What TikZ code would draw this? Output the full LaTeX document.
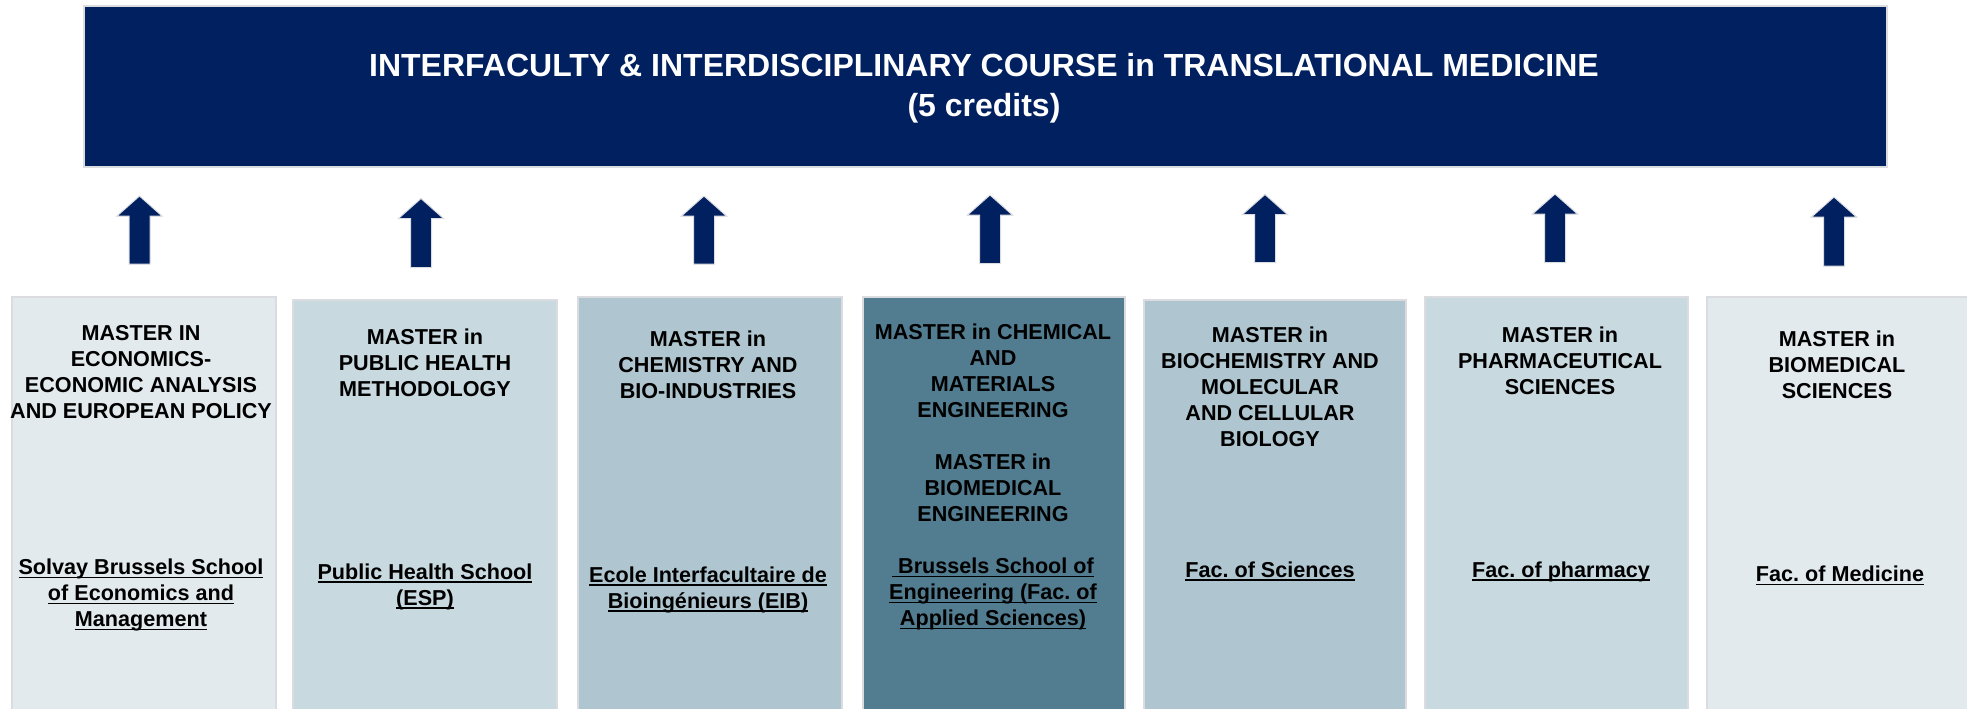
\documentclass[tikz,border=0pt]{standalone}
\usepackage{fontspec}
\setmainfont{Liberation Sans}
\usetikzlibrary{calc}
\frenchspacing
\definecolor{navy}{RGB}{0,32,96}
\definecolor{cA}{RGB}{227,234,238}
\definecolor{cB}{RGB}{200,217,224}
\definecolor{cC}{RGB}{175,198,208}
\definecolor{cD}{RGB}{82,124,144}
\definecolor{edge}{RGB}{218,220,224}
\newcommand\myul[1]{\leavevmode\setbox0\hbox{#1}\rlap{\rule[-0.16em]{\wd0}{0.07em}}\box0}
\begin{document}
\begin{tikzpicture}[x=0.5pt,y=-0.5pt,
  colbox/.style={draw=edge, line width=0.8pt, anchor=north west, inner sep=0pt,
    minimum width=132pt, minimum height=214pt},
  hdrbox/.style={draw=edge, line width=0.8pt, fill=navy, anchor=north west, inner sep=0pt,
    minimum width=901.5pt, minimum height=80.5pt},
  hdrtext/.style={inner sep=0pt, align=center, text=white,
    font=\fontsize{16pt}{20pt}\selectfont\bfseries\frenchspacing},
  titletext/.style={inner sep=0pt, align=center, text=black,
    font=\fontsize{10.8pt}{13pt}\selectfont\bfseries\frenchspacing},
  schooltext/.style={titletext},
  blockarrow/.style={fill=navy, draw=edge, line width=0.5pt, line join=miter}]
\useasboundingbox (0,0) rectangle (1967,708);

% header
\node[hdrbox] (hdr) at (83,5) {};
\node[hdrtext] (hdrt) at (984,88.1) {INTERFACULTY \& INTERDISCIPLINARY COURSE in TRANSLATIONAL MEDICINE\\(5 credits)};

% columns
\node[colbox, fill=cA] (c1) at (11,296) {};
\node[colbox, fill=cB] (c2) at (292,299) {};
\node[colbox, fill=cC] (c3) at (577,296) {};
\node[colbox, fill=cD, minimum width=131pt] (c4) at (862,296) {};
\node[colbox, fill=cC, minimum width=131pt] (c5) at (1143,299) {};
\node[colbox, fill=cB, minimum width=131.5pt] (c6) at (1424,296) {};
\node[colbox, fill=cA, minimum width=135pt] (c7) at (1706,296) {};

% titles
\node[titletext] (t1) at (141,372) {MASTER IN\\ECONOMICS-\\ECONOMIC ANALYSIS\\AND EUROPEAN POLICY};
\node[titletext] (t2) at (425,363) {MASTER in\\PUBLIC HEALTH\\METHODOLOGY};
\node[titletext] (t3) at (708,365) {MASTER in\\CHEMISTRY AND\\BIO-INDUSTRIES};
\node[titletext] (t4) at (993,422.4) {MASTER in CHEMICAL\\AND\\MATERIALS\\ENGINEERING\\[13pt]MASTER in\\BIOMEDICAL\\ENGINEERING};
\node[titletext] (t5) at (1270,387) {MASTER in\\BIOCHEMISTRY AND\\MOLECULAR\\AND CELLULAR\\BIOLOGY};
\node[titletext] (t6) at (1560,361) {MASTER in\\PHARMACEUTICAL\\SCIENCES};
\node[titletext] (t7) at (1837,364.7) {MASTER in\\BIOMEDICAL\\SCIENCES};

% schools
\node[schooltext] (s1) at (141,595.3) {\myul{Solvay Brussels School}\\\myul{of Economics and}\\\myul{Management}};
\node[schooltext] (s2) at (425,586.6) {\myul{Public Health School}\\\myul{(ESP)}};
\node[schooltext] (s3) at (708,589.8) {\myul{Ecole Interfacultaire de}\\\myul{Bioingénieurs (EIB)}};
\node[schooltext] (s4) at (993,594.3) {\myul{\ Brussels School of}\\\myul{Engineering (Fac. of}\\\myul{Applied Sciences)}};
\node[schooltext] (s5) at (1270,571.3) {\myul{Fac. of Sciences}};
\node[schooltext] (s6) at (1561,571.9) {\myul{Fac. of pharmacy}};
\node[schooltext] (s7) at (1840,575.7) {\myul{Fac. of Medicine}};

% arrows from columns up to the header
\foreach \i/\x/\yb/\yt in {1/139.5/264/196, 2/421/267.5/198.5, 3/704/264/196,
  4/990/263.5/195, 5/1265/262.5/194.5, 6/1555/262.5/194, 7/1834/266/197} {
  \coordinate (as\i) at (\x,\yb);
  \coordinate (ae\i) at (\x,\yt);
  \draw[blockarrow] ($(as\i)+(-10.5,0)$) -- ($(ae\i)+(-10.5,20)$) -- ($(ae\i)+(-22.5,20)$)
    -- (ae\i) -- ($(ae\i)+(22.5,20)$) -- ($(ae\i)+(10.5,20)$) -- ($(as\i)+(10.5,0)$) -- cycle;
}
\end{tikzpicture}
\end{document}
